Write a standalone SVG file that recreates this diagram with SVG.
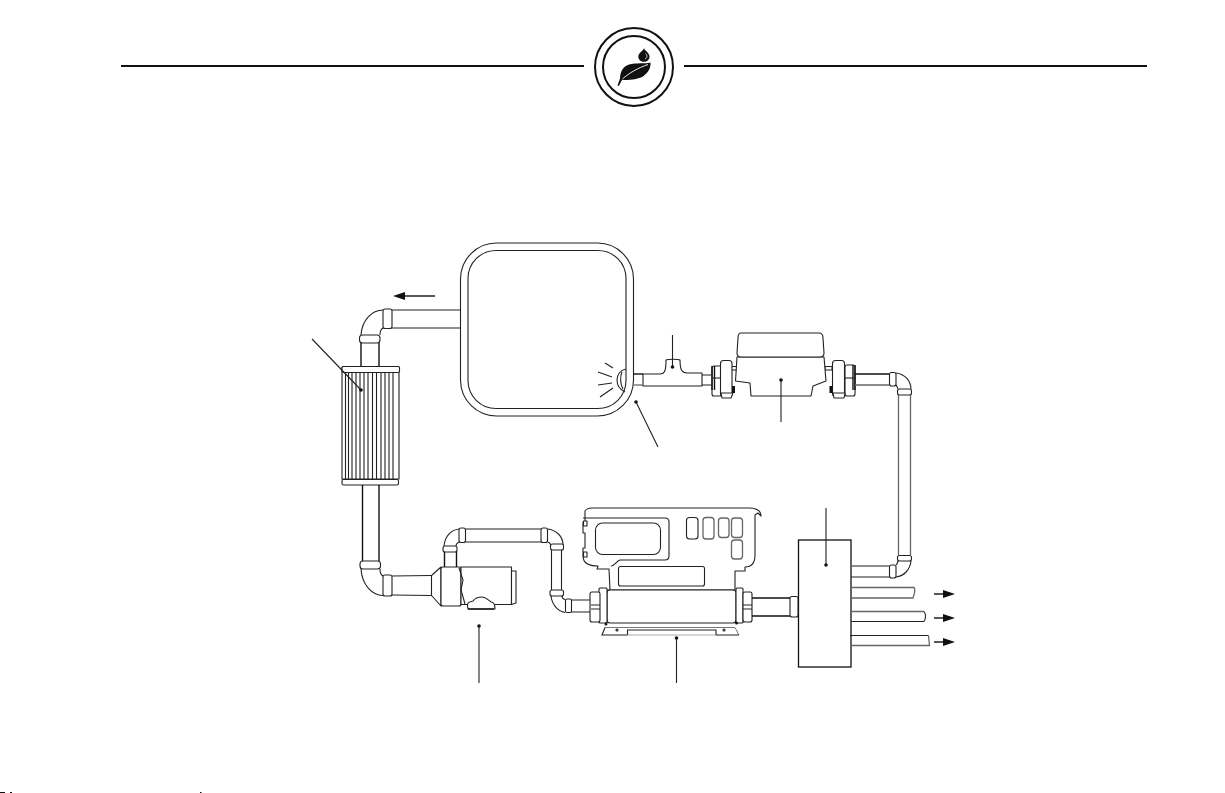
<svg xmlns="http://www.w3.org/2000/svg" width="1225" height="793" viewBox="0 0 1225 793">
<style>
.l{fill:none;stroke:#222;stroke-width:1.1}
.f{fill:#fff;stroke:#222;stroke-width:1.1;stroke-linejoin:round}
.g{fill:none;stroke:#666;stroke-width:1.3}
.k{fill:none;stroke:#111;stroke-width:1.4}
.h{fill:none;stroke:#111;stroke-width:2}
.d{fill:#111}
</style>
<defs>
<marker id="ah" markerWidth="12" markerHeight="10" refX="0" refY="4" orient="auto" markerUnits="userSpaceOnUse"><path d="M0 0L12 4L0 8Z" fill="#111"/></marker>
</defs>
<rect width="1225" height="793" fill="#fff"/>
<g id="header"><path class="h" d="M121 66H584M684 66H1147"/></g>
<g id="logo">
<circle class="h" cx="634" cy="67" r="39"/><circle class="h" cx="634" cy="67" r="31"/>
<path class="d" d="M650.500 62.500C645 64 636 62.500 629 64.500C623 66.500 620 72 620 78.500L617.500 85.500L618.800 86L622 80C628 80 638 79.500 643 76.500C648 73 651 68 650.500 62.500Z"/>
<path d="M648 64.500C638 68 629 73 622.500 79" fill="none" stroke="#fff" stroke-width="0.9"/>
<path class="d" d="M644 48.300C642.500 51.500 638.300 53 638.300 56.500C638.300 59.800 641 61.800 644 61.800C647 61.800 649.500 59.800 649.500 56.500C649.500 53 645.500 51.500 644 48.300Z"/>
<path d="M645.500 53.500C647.500 55 647.500 58 645 59" fill="none" stroke="#fff" stroke-width="0.8"/>
</g>
<g id="tank">
<rect class="l" x="460.500" y="243" width="173" height="173" rx="36"/>
<rect class="l" x="468" y="250.500" width="158" height="158" rx="28"/>
<path class="l" d="M626 369C620 370 617 375 617 380C617 386 621 390 625 392M622 372C620 376 620 384 623 389"/>
<path class="l" d="M605 363L613 368M598 372L612 377M598 385L612 383M600 397L613 388"/>
</g>
<g id="filter">
<rect class="f" x="342" y="367" width="57" height="112"/>
<path class="l" d="M345.500 372V480M348.500 372V480M352 373V480M356 373V480M360 373V480M364 373V480M368 373V480M372.500 373V480M376.500 373V480M381 373V480M385 373V480M389 373V480M393 373V480"/>
<rect class="f" x="342" y="366.500" width="57.500" height="6" rx="1.500"/>
<rect class="f" x="342" y="479.500" width="56.500" height="5.500" rx="1.500"/>
</g>
<g id="pump">
<path class="f" d="M431.500 575.500L441 567V606L431.500 595.500Z"/>
<rect class="f" x="441" y="567" width="20" height="39" rx="2"/>
<path class="f" d="M461 567H511.500V604.500H461Z"/>
<path class="l" d="M459 568L463 580L461 590L465 604"/>
<path class="f" d="M511.500 571H516V603L511.500 604.500Z"/>
<path class="f" d="M467.500 605.500C467 602 470 602 473 601C475 598 478 597 482 597C486 597 488 600 491 602C495 602 495 607 495 609H468Z"/>
<path class="k" d="M468 609H494"/>
</g>
<g id="tee">
<path class="f" d="M643 374H660C665 374 666 370 666 360C668 359 678 359 680 360C680 370 682 373 687 373H702V386H643Z"/>
</g>
<g id="meter">
<path class="f" d="M731.500 366.500H737V370H731.500ZM825 366.500H832V370H825Z"/>
<path class="f" d="M737 357L735.500 381L750 383L751 396H811L813 386L826 381L824 357Z"/>
<path class="f" d="M741 333H819C822 333 823 335 823 338L824 353C824 356 822 357 820 357H741C738 357 737 355 737 353L738 338C738 335 739 333 741 333Z"/>
<rect class="f" x="712" y="366" width="10" height="30" rx="2"/>
<path class="k" d="M712 366V390M714.500 366V390"/>
<path class="l" d="M712 378H722"/>
<rect class="f" x="720.500" y="360.500" width="11.500" height="36" rx="3"/>
<path class="f" d="M721 393H733L731 398H722Z"/>
<rect x="732" y="386" width="3" height="7" fill="#111"/>
<rect class="f" x="832.500" y="360.500" width="12" height="36" rx="3"/>
<rect class="f" x="845" y="365" width="10" height="31" rx="2"/>
<path class="k" d="M855 365V390M853 365V390"/>
<path class="l" d="M845 378H855"/>
<path class="f" d="M833 393H845L844 398H834Z"/>
<rect x="829.500" y="386" width="3" height="7" fill="#111"/>
</g>
<g id="heater">
<path class="f" d="M607 590H610L609 569H597L598 566C587 566 583 562 583 556V548H585V533H583V522H585V511C585 510 588 508 592 508H750C755 508 761 510 761 516L758 513L755 515V555C755 562 752 567 745 567V571H735V590Z"/>
<path class="l" d="M583 518H665C668 518 669 520 669 522V556C669 559 668 560 665 560H620C616 561 615 566 611 566"/>
<rect class="l" x="595.500" y="523" width="65" height="31.500" rx="7"/>
<rect class="l" x="686.500" y="517.500" width="11.500" height="21.500" rx="3"/>
<rect class="g" x="703" y="517.500" width="11" height="21.500" rx="3"/>
<rect class="g" x="718.500" y="518" width="10.500" height="19.500" rx="3"/>
<rect class="g" x="731.500" y="518" width="11" height="19.500" rx="3"/>
<rect class="g" x="731.500" y="540" width="11" height="19" rx="3"/>
<rect class="l" x="618.500" y="566.500" width="86" height="19.500" rx="2"/>
<rect class="f" x="583.500" y="521" width="3.500" height="5"/>
<rect class="f" x="583.500" y="552" width="3.500" height="5"/>
<rect class="f" x="607" y="590" width="129" height="33" rx="3"/>
<path d="M605 627.500H735L739 635" fill="none" stroke="#777" stroke-width="1"/>
<path class="l" d="M605 627.500L602 635H627.500M716 635H739"/>
<path class="l" d="M627.500 635V630H716V635"/>
<path d="M627.500 635H716" fill="none" stroke="#aaa" stroke-width="1"/>
<circle class="l" cx="617" cy="630" r="1"/><circle class="l" cx="724" cy="630" r="1"/>
<rect class="f" x="599" y="588" width="8" height="35" rx="1"/>
<rect class="f" x="590" y="592" width="10" height="30" rx="2"/>
<path class="l" d="M591 605H600M591 609H600"/>
<rect class="f" x="736" y="588" width="7" height="35" rx="1"/>
<rect class="f" x="743" y="592" width="9" height="30" rx="2"/>
<path class="l" d="M743 605H752M743 609H752"/>
<circle class="d" cx="606" cy="624" r="1.500"/><circle class="d" cx="736.500" cy="623" r="1.500"/>
</g>
<g id="box"><rect x="798.500" y="540" width="52.500" height="127" fill="#fff" stroke="#111" stroke-width="1.300"/></g>
<g id="connectors">
<path class="l" d="M392 310H460M392 328H460"/>
<path class="l" d="M361 335C362 320 372 310 383 310M380 335C380 331 381 329 383 328"/>
<rect class="f" x="383" y="309" width="9" height="19.500" rx="2"/>
<rect class="f" x="359.500" y="335" width="20.500" height="8" rx="3"/>
<path class="k" d="M361 343V366M379 343V366"/>
<path class="k" d="M362.500 485V561M379 485V561"/>
<path class="l" d="M361 569C362 585 372 595 383 595.500M380 569C380 572 381 575 383 576"/>
<rect class="f" x="360" y="561" width="20.500" height="8" rx="3"/>
<rect class="f" x="383" y="575" width="9" height="21" rx="2"/>
<path class="l" d="M392 576L431 575.500M392 595L431 595.500"/>
<path class="k" d="M444.500 551V567M456.500 551V567"/>
<path class="l" d="M444 546C445 536 451 530 459 529M456 546C456 544 457 543 459 542"/>
<rect class="f" x="443" y="546" width="14" height="6" rx="2"/>
<rect class="f" x="459" y="528" width="6.500" height="14.500" rx="2"/>
<path class="l" d="M465.500 529H541M465.500 542H541"/>
<rect class="f" x="541" y="528" width="6.500" height="14.500" rx="2"/>
<path class="l" d="M547.500 529C556 530 563 536 563 545M547.500 542C549 542 550 543 551 545"/>
<rect class="f" x="550.500" y="544" width="13" height="6" rx="2"/>
<path class="l" d="M551.500 550V590M561.500 550V590"/>
<rect class="f" x="550" y="590" width="13.500" height="6" rx="2"/>
<path class="l" d="M551 596C552 605 558 611 565 612.500M562 596C562 597 563 599 565 599.500"/>
<rect class="f" x="565.500" y="599" width="6" height="13.500" rx="1.500"/>
<path class="l" d="M571.500 600H590M571.500 612H590"/>
<path class="k" d="M752 598H790M752 616H790"/>
<rect class="f" x="790" y="596.500" width="8" height="20.500" rx="2"/>
<path class="k" d="M633 374H643"/><path class="g" d="M634 385H643"/>
<path class="l" d="M702 375H712M702 385H712"/>
<path class="k" d="M855 374H889"/><path class="g" d="M855 385H889"/>
<rect class="f" x="889.500" y="372.500" width="6.500" height="13.500" rx="2"/>
<path class="l" d="M896 373C905 374 911 381 911 389M896 385C897 386 897.500 388 898 389"/>
<rect class="f" x="897.500" y="389" width="14" height="6" rx="2"/>
<path class="g" d="M898.500 395V555M910.500 395V555"/>
<rect class="f" x="897.500" y="555.500" width="14" height="5.500" rx="2"/>
<path class="l" d="M911 561C910 570 904 576 896 577M898 561C897.500 563 897 564.500 896 565"/>
<rect class="f" x="889.500" y="565" width="6.500" height="13" rx="2"/>
<path class="g" d="M851 566H889.500"/><path class="l" d="M851 577H889.500"/>
<path class="g" d="M851 587.500H914C916 590 914 595 913 598H851"/>
<path class="g" d="M851 611.500H924"/><path class="l" d="M851 621.500H924C926 619 926 614 924 611.500"/>
<path class="l" d="M850 635.500H928.500"/><path class="g" d="M850 645.500H929.500L928.500 635.500"/>
<path class="k" d="M435 296H405" marker-end="url(#ah)"/>
<path class="k" d="M934 594H943" marker-end="url(#ah)"/>
<path class="k" d="M934 618H943" marker-end="url(#ah)"/>
<path class="k" d="M934 642H943" marker-end="url(#ah)"/>
<path class="l" d="M312 339L361 390M658 447L636 402M672.500 335V367M781 380V422M826 508V565M479 626V683M676.500 638V683"/>
<g class="d"><circle cx="361" cy="390" r="1.800"/><circle cx="636" cy="402" r="1.800"/><circle cx="672.500" cy="367" r="1.800"/><circle cx="781" cy="380" r="1.800"/><circle cx="826" cy="565" r="1.800"/><circle cx="479" cy="626" r="1.800"/><circle cx="676.500" cy="638" r="1.800"/></g>
</g>
<g id="edge-marks" fill="#111"><rect x="0" y="792" width="5" height="1"/><rect x="10" y="792" width="2" height="1"/><rect x="200" y="792" width="1.500" height="1"/></g>
</svg>
